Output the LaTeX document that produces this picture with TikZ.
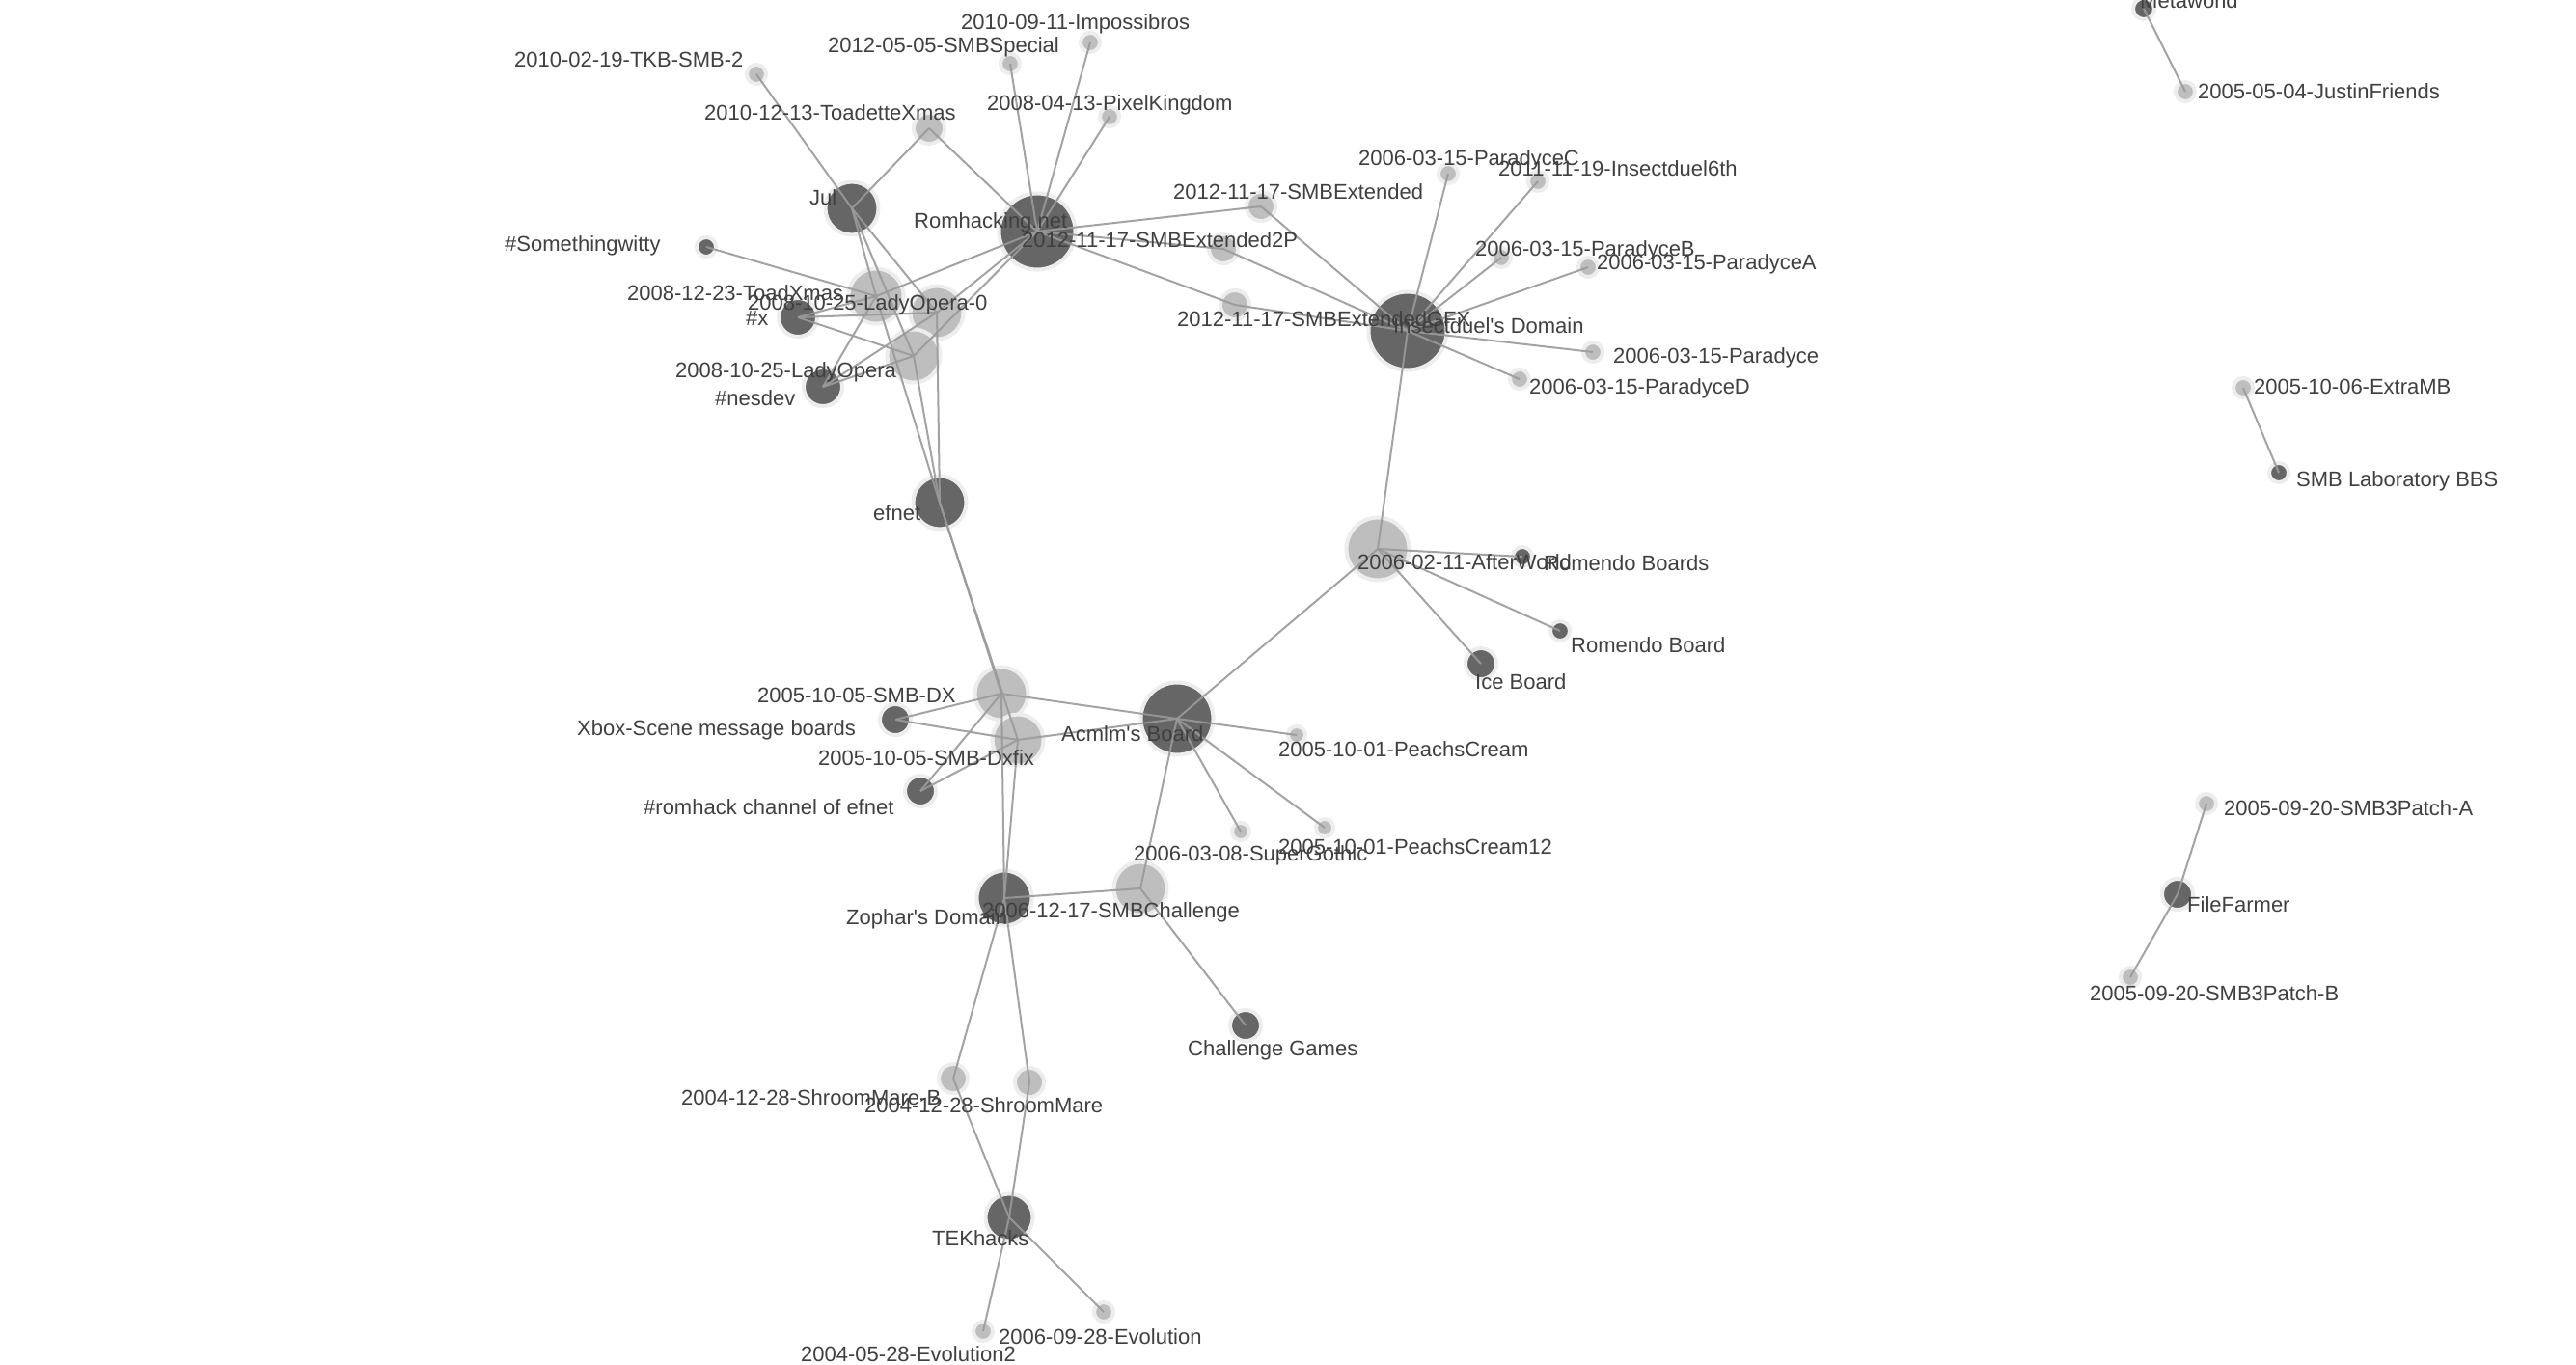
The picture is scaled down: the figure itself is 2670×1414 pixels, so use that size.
\documentclass[tikz,border=0pt]{standalone}
\usepackage{fontspec}
\setmainfont{Liberation Sans}
\definecolor{nodedark}{HTML}{666666}
\definecolor{nodelight}{HTML}{BEBEBE}
\definecolor{halo}{HTML}{EDEDED}
\definecolor{edgec}{HTML}{9A9A9A}
\definecolor{txt}{HTML}{404040}
\begin{document}
\begin{tikzpicture}[x=1pt,y=-1pt,
  dk/.style={circle,inner sep=0pt,fill=nodedark,draw=halo,line width=4pt,minimum size=#1},
  lt/.style={circle,inner sep=0pt,fill=nodelight,draw=halo,line width=4pt,minimum size=#1},
  lnk/.style={draw=edgec,line width=2pt,opacity=0.9},
  lbl/.style={anchor=base west,inner sep=0pt,text=txt,font=\fontsize{22}{26}\selectfont}]
\useasboundingbox[fill=white] (0,0) rectangle (2670,1414);
% dark nodes
\node[dk=79pt] (rh) at (1075,240) {};
\node[dk=81pt] (ins) at (1459,343) {};
\node[dk=75pt] (acm) at (1220,745) {};
\node[dk=55pt] (jul) at (883,216) {};
\node[dk=55pt] (efnet) at (974,521) {};
\node[dk=57pt] (zoph) at (1041,931) {};
\node[dk=49pt] (tek) at (1046,1262) {};
\node[dk=40pt] (hx) at (827,329) {};
\node[dk=40pt] (nes) at (853,401) {};
\node[dk=32pt] (xbox) at (928,746) {};
\node[dk=32pt] (romh) at (954,820) {};
\node[dk=32pt] (ice) at (1535,688) {};
\node[dk=32pt] (cg) at (1291,1063) {};
\node[dk=32pt] (ff) at (2257,927) {};
\node[dk=20pt] (sw) at (732,256) {};
\node[dk=20pt] (rbs) at (1578,577) {};
\node[dk=20pt] (rb) at (1617,654) {};
\node[dk=22pt] (meta) at (2222,9) {};
\node[dk=20pt] (lab) at (2362,490) {};
% light nodes
\node[lt=57pt] (txm) at (908,307) {};
\node[lt=55pt] (lo0) at (971,324) {};
\node[lt=55pt] (lo) at (947,369) {};
\node[lt=55pt] (dx) at (1038,719) {};
\node[lt=53pt] (dxf) at (1055,767) {};
\node[lt=55pt] (chal) at (1182,921) {};
\node[lt=65pt] (aw) at (1428,569) {};
\node[lt=32pt] (tdx) at (963,133) {};
\node[lt=30pt] (ext) at (1307,214) {};
\node[lt=30pt] (ext2) at (1268,258) {};
\node[lt=30pt] (extg) at (1280,316) {};
\node[lt=30pt] (smb) at (988,1118) {};
\node[lt=30pt] (shm) at (1067,1122) {};
\node[lt=20pt] (tkb) at (784,77) {};
\node[lt=20pt] (spec) at (1047,66) {};
\node[lt=20pt] (imp) at (1130,44) {};
\node[lt=20pt] (pix) at (1150,121) {};
\node[lt=20pt] (pc) at (1501,180) {};
\node[lt=20pt] (i6) at (1594,188) {};
\node[lt=20pt] (pb) at (1556,267) {};
\node[lt=20pt] (pa) at (1646,277) {};
\node[lt=20pt] (pp) at (1651,365) {};
\node[lt=20pt] (pd) at (1575,393) {};
\node[lt=18pt] (peach) at (1344,762) {};
\node[lt=18pt] (sg) at (1286,862) {};
\node[lt=18pt] (peach12) at (1373,858) {};
\node[lt=20pt] (evo) at (1144,1360) {};
\node[lt=20pt] (evo2) at (1019,1380) {};
\node[lt=20pt] (jf) at (2265,95) {};
\node[lt=20pt] (xmb) at (2325,402) {};
\node[lt=20pt] (pa3) at (2287,833) {};
\node[lt=20pt] (pb3) at (2208,1013) {};
% connectors
\foreach \a/\b in {rh/spec,rh/imp,rh/pix,rh/tdx,rh/ext,rh/ext2,rh/extg,rh/txm,rh/lo0,rh/lo,
  jul/tkb,jul/tdx,jul/txm,jul/lo,jul/lo0,txm/efnet,lo/efnet,lo0/efnet,sw/txm,
  hx/lo0,hx/lo,hx/txm,nes/txm,nes/lo0,nes/lo,
  ins/ext,ins/ext2,ins/extg,ins/pc,ins/i6,ins/pb,ins/pa,ins/pp,ins/pd,ins/aw,
  aw/rbs,aw/rb,aw/ice,aw/acm,
  acm/dx,acm/dxf,acm/peach,acm/sg,acm/peach12,acm/chal,
  efnet/dx,efnet/dxf,xbox/dx,xbox/dxf,romh/dx,romh/dxf,
  zoph/dx,zoph/dxf,zoph/chal,zoph/smb,zoph/shm,chal/cg,
  tek/smb,tek/shm,tek/evo,tek/evo2,meta/jf,xmb/lab,ff/pa3,ff/pb3}
  \draw[lnk] (\a.center) -- (\b.center);
% labels
\node[lbl] (l1) at (996,30) {2010-09-11-Impossibros};
\node[lbl] (l2) at (858,54) {2012-05-05-SMBSpecial};
\node[lbl] (l3) at (533,69) {2010-02-19-TKB-SMB-2};
\node[lbl] (l4) at (1023,114) {2008-04-13-PixelKingdom};
\node[lbl] (l5) at (730,124) {2010-12-13-ToadetteXmas};
\node[lbl] (l6) at (839,212) {Jul};
\node[lbl] (l7) at (947,236) {Romhacking.net};
\node[lbl] (l8) at (1059,256) {2012-11-17-SMBExtended2P};
\node[lbl] (l9) at (1216,206) {2012-11-17-SMBExtended};
\node[lbl] (l10) at (523,260) {\#Somethingwitty};
\node[lbl] (l11) at (650,311) {2008-12-23-ToadXmas};
\node[lbl] (l12) at (775,321) {2008-10-25-LadyOpera-0};
\node[lbl] (l13) at (773,337) {\#x};
\node[lbl] (l14) at (700,391) {2008-10-25-LadyOpera};
\node[lbl] (l15) at (741,420) {\#nesdev};
\node[lbl] (l16) at (905,539) {efnet};
\node[lbl] (l17) at (1408,171) {2006-03-15-ParadyceC};
\node[lbl] (l18) at (1553,182) {2011-11-19-Insectduel6th};
\node[lbl] (l19) at (1529,265) {2006-03-15-ParadyceB};
\node[lbl] (l20) at (1655,279) {2006-03-15-ParadyceA};
\node[lbl] (l21) at (1220,338) {2012-11-17-SMBExtendedGFX};
\node[lbl] (l22) at (1444,345) {Insectduel\textquotesingle s Domain};
\node[lbl] (l23) at (1672,376) {2006-03-15-Paradyce};
\node[lbl] (l24) at (1585,408) {2006-03-15-ParadyceD};
\node[lbl] (l25) at (1407,590) {2006-02-11-AfterWorld};
\node[lbl] (l26) at (1600,591) {Romendo Boards};
\node[lbl] (l27) at (1628,676) {Romendo Board};
\node[lbl] (l28) at (1529,714) {Ice Board};
\node[lbl] (l29) at (1100,768) {Acmlm\textquotesingle s Board};
\node[lbl] (l30) at (1325,784) {2005-10-01-PeachsCream};
\node[lbl] (l31) at (785,728) {2005-10-05-SMB-DX};
\node[lbl] (l32) at (598,762) {Xbox-Scene message boards};
\node[lbl] (l33) at (848,793) {2005-10-05-SMB-Dxfix};
\node[lbl] (l34) at (667,844) {\#romhack channel of efnet};
\node[lbl] (l35) at (1175,892) {2006-03-08-SuperGothic};
\node[lbl] (l36) at (1325,885) {2005-10-01-PeachsCream12};
\node[lbl] (l37) at (1018,951) {2006-12-17-SMBChallenge};
\node[lbl] (l38) at (877,958) {Zophar\textquotesingle s Domain};
\node[lbl] (l39) at (1231,1094) {Challenge Games};
\node[lbl] (l40) at (706,1145) {2004-12-28-ShroomMare-B};
\node[lbl] (l41) at (896,1153) {2004-12-28-ShroomMare};
\node[lbl] (l42) at (966,1291) {TEKhacks};
\node[lbl] (l43) at (1035,1393) {2006-09-28-Evolution};
\node[lbl] (l44) at (830,1411) {2004-05-28-Evolution2};
\node[lbl] (l45) at (2218,8) {Metaworld};
\node[lbl] (l46) at (2278,102) {2005-05-04-JustinFriends};
\node[lbl] (l47) at (2336,408) {2005-10-06-ExtraMB};
\node[lbl] (l48) at (2380,504) {SMB Laboratory BBS};
\node[lbl] (l49) at (2305,845) {2005-09-20-SMB3Patch-A};
\node[lbl] (l50) at (2267,945) {FileFarmer};
\node[lbl] (l51) at (2166,1037) {2005-09-20-SMB3Patch-B};
\end{tikzpicture}
\end{document}
